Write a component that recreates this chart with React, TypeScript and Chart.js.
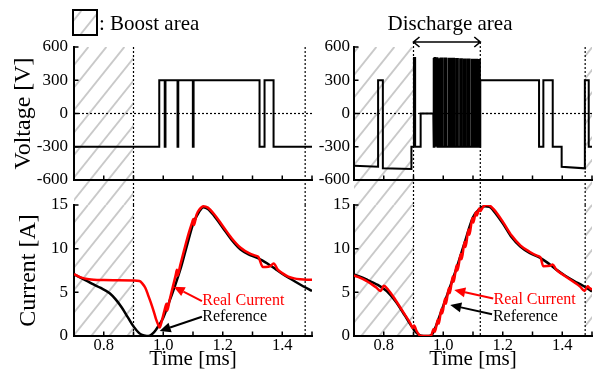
import React, { useEffect, useRef } from 'react';
import { Chart, registerables } from 'chart.js';

Chart.register(...registerables);

const SERIF = '"Liberation Serif", "Times New Roman", Times, serif';
const W = 594;
const H = 374;

// ---------------- axes ----------------
const timeMin = 0.7;
const timeMax = 1.5;
const timeTicks = [0.8, 0.9, 1.0, 1.1, 1.2, 1.3, 1.4, 1.5];
const timeTickLabels = [0.8, 1.0, 1.2, 1.4];
const voltTicks = [-600, -300, 0, 300, 600];
const currTicks = [0, 5, 10, 15];

// ---------------- areas ----------------
const boostLeft = [[0.7, 0.9]];
const boostRight = [[0.7, 0.9], [1.477, 1.5]];
const markersLeft = [0.9, 1.477];
const markersRight = [0.9, 1.1245, 1.477];
const dischargeArea = [0.9, 1.1245];

// ---------------- voltage (left) ----------------
const voltLeftT = [0.7, 0.9866, 0.9866, 1.005, 1.005, 1.0075, 1.0075, 1.048, 1.048, 1.0505, 1.0505, 1.0995, 1.0995, 1.102, 1.102, 1.3237, 1.3237, 1.3405, 1.3405, 1.3708, 1.3708, 1.5];
const voltLeftV = [-300, -300, 300, 300, -300, -300, 300, 300, -300, -300, 300, 300, -300, -300, 300, 300, -300, -300, 300, 300, -300, -300];

// ---------------- voltage (right) ----------------
const voltRightHeadT = [0.7, 0.781, 0.781, 0.797, 0.797, 0.893, 0.893, 0.9015, 0.9015, 0.9055, 0.9055, 0.924, 0.924, 0.9666];
const voltRightHeadV = [-471, -480, 300, 300, -494, -500, -300, -300, 500, 500, -300, -300, 0, 0];
const pwmOn = [0.9666, 0.9706, 0.9746, 0.9786, 0.9826, 0.9866, 0.9906, 0.9946, 1.0038, 1.0175, 1.0303, 1.0432, 1.0567, 1.0696, 1.0825, 1.096, 1.1082, 1.1177];
const pwmOff = [0.9686, 0.9726, 0.9766, 0.9806, 0.9846, 0.9886, 0.9926, 0.9966, 1.0098, 1.0235, 1.0363, 1.0492, 1.0627, 1.0756, 1.0885, 1.102, 1.1142, 1.1232];
const pwmTop = [500, 500, 499, 499, 498, 498, 497, 497, 496, 494, 493, 491, 490, 488, 487, 485, 484, 483];
const pwmLow = -300;
const voltRightTailT = [1.1245, 1.1245, 1.322, 1.322, 1.3365, 1.3365, 1.368, 1.368, 1.398, 1.398, 1.476, 1.476, 1.489, 1.489, 1.5];
const voltRightTailV = [-300, 300, 300, -300, -300, 300, 300, -300, -300, -480, -495, 300, 300, -300, -300];

// ---------------- current (left) ----------------
const refLeftT = [0.70, 0.73, 0.76, 0.79, 0.82, 0.84, 0.86, 0.88, 0.90, 0.92, 0.935, 0.945, 0.955, 0.965, 0.975, 0.985, 1.00, 1.02, 1.04, 1.06, 1.08, 1.10, 1.12, 1.135, 1.15, 1.17, 1.20, 1.23, 1.26, 1.29, 1.32, 1.35, 1.38, 1.41, 1.44, 1.47, 1.50];
const refLeftI = [7.05, 6.55, 6.0, 5.5, 4.9, 4.2, 3.3, 2.2, 1.1, 0.3, 0.05, 0.0, 0.05, 0.3, 0.7, 1.2, 2.1, 3.9, 5.8, 7.9, 10.4, 12.8, 14.2, 14.75, 14.55, 13.8, 12.4, 11.0, 9.9, 9.3, 8.9, 8.3, 7.6, 6.9, 6.3, 5.7, 5.15];
const realLeftT = [0.70, 0.72, 0.75, 0.80, 0.85, 0.90, 0.92, 0.93, 0.94, 0.95, 0.962, 0.97, 0.976, 0.983, 0.988, 0.995, 1.004, 1.011, 1.013, 1.022, 1.032, 1.042, 1.046, 1.048, 1.057, 1.07, 1.085, 1.098, 1.101, 1.103, 1.112, 1.122, 1.135, 1.15, 1.17, 1.20, 1.23, 1.26, 1.29, 1.31, 1.32, 1.335, 1.345, 1.36, 1.371, 1.385, 1.40, 1.42, 1.44, 1.46, 1.48, 1.50];
const realLeftI = [7.1, 6.75, 6.5, 6.4, 6.38, 6.35, 6.3, 6.0, 5.5, 4.6, 3.46, 2.6, 1.9, 1.3, 0.96, 1.7, 2.9, 3.7, 2.9, 4.2, 5.6, 7.0, 7.6, 6.9, 8.1, 9.8, 11.7, 13.1, 13.4, 12.7, 13.9, 14.5, 14.85, 14.7, 14.0, 12.6, 11.2, 10.1, 9.45, 9.2, 9.05, 7.9, 7.9, 8.0, 8.3, 7.6, 7.2, 6.8, 6.6, 6.5, 6.45, 6.45];

// ---------------- current (right) ----------------
const refRightT = [0.70, 0.74, 0.78, 0.81, 0.84, 0.87, 0.89, 0.905, 0.92, 0.935, 0.95, 0.962, 0.975, 0.99, 1.01, 1.04, 1.07, 1.10, 1.12, 1.14, 1.155, 1.17, 1.20, 1.23, 1.26, 1.29, 1.32, 1.35, 1.38, 1.41, 1.44, 1.47, 1.50];
const refRightI = [7.05, 6.5, 5.85, 5.15, 3.95, 2.4, 1.3, 0.55, 0.1, 0.0, 0.0, 0.15, 1.1, 2.5, 4.4, 7.3, 10.5, 13.6, 14.5, 14.85, 14.8, 14.3, 12.9, 11.3, 10.2, 9.5, 9.05, 8.4, 7.6, 6.9, 6.3, 5.75, 5.1];
const realRightT = [0.70, 0.74, 0.775, 0.79, 0.80, 0.815, 0.84, 0.87, 0.89, 0.897, 0.902, 0.91, 0.922, 0.93, 0.958, 0.968, 0.972, 0.982, 0.985, 0.994, 0.997, 1.006, 1.009, 1.019, 1.022, 1.032, 1.035, 1.045, 1.048, 1.059, 1.062, 1.072, 1.075, 1.085, 1.088, 1.098, 1.101, 1.110, 1.113, 1.121, 1.124, 1.135, 1.145, 1.155, 1.17, 1.20, 1.23, 1.26, 1.29, 1.315, 1.327, 1.336, 1.36, 1.368, 1.38, 1.41, 1.44, 1.46, 1.475, 1.485, 1.492, 1.50];
const realRightI = [6.95, 6.35, 5.55, 5.15, 5.75, 5.3, 4.1, 2.5, 1.4, 0.9, 1.2, 0.6, 0.05, 0.0, 0.0, 0.8, 0.5, 1.9, 1.4, 3.1, 2.6, 4.3, 3.7, 5.5, 4.9, 6.8, 6.2, 8.1, 7.5, 9.4, 8.8, 10.8, 10.2, 12.2, 11.6, 13.5, 13.0, 14.2, 13.8, 14.6, 14.3, 14.85, 15.0, 14.95, 14.5, 13.1, 11.5, 10.35, 9.65, 9.2, 9.0, 8.0, 8.05, 8.2, 7.6, 6.85, 6.15, 5.65, 5.15, 5.7, 5.5, 5.3];

// ---------------- annotations (data coordinates) ----------------
type Note = { text: string; color: string; textAt: number[]; tail: number[]; tip: number[] };
const notesLeft: Note[] = [
  { text: 'Real Current', color: '#ff0000', textAt: [1.131, 4.0], tail: [1.13, 4.0], tip: [1.035, 5.65] },
  { text: 'Reference', color: '#000000', textAt: [1.131, 2.2], tail: [1.13, 2.2], tip: [0.988, 0.57] },
];
const notesRight: Note[] = [
  { text: 'Real Current', color: '#ff0000', textAt: [1.169, 4.2], tail: [1.168, 4.3], tip: [1.037, 5.27] },
  { text: 'Reference', color: '#000000', textAt: [1.167, 2.21], tail: [1.164, 2.5], tip: [1.0235, 3.55] },
];

// ---------------- frame (pixels) ----------------
const FRAME = { leftX0: 74, leftX1: 312, rightX0: 354, rightX1: 592, voltTop: 47, voltBottom: 180, currTop: 205, currBottom: 336, arrowY: 42 };

const pts = (t: number[], v: number[]) => t.map((x, i) => ({ x, y: v[i] }));

function rightVoltagePoints() {
  const out = pts(voltRightHeadT, voltRightHeadV);
  pwmOn.forEach((on, i) => {
    if (i > 0) out.push({ x: on, y: pwmLow });
    out.push({ x: on, y: pwmTop[i] });
    out.push({ x: pwmOff[i], y: pwmTop[i] });
    out.push({ x: pwmOff[i], y: pwmLow });
  });
  return out.concat(pts(voltRightTailT, voltRightTailV));
}

const stepLine = (data: any[]) => ({
  data, borderColor: '#000', borderWidth: 2, pointRadius: 0, tension: 0, fill: false,
  borderJoinStyle: 'miter', borderCapStyle: 'butt',
});
const smoothLine = (data: any[], color: string, order: number) => ({
  data, borderColor: color, borderWidth: 2.5, pointRadius: 0, fill: false, order,
  cubicInterpolationMode: 'monotone', borderJoinStyle: 'round',
});

// ---------------- drawing helpers ----------------
function hatchRect(ctx: CanvasRenderingContext2D, x0: number, x1: number, y0: number, y1: number) {
  ctx.save();
  ctx.beginPath();
  ctx.rect(x0, y0, x1 - x0, y1 - y0);
  ctx.clip();
  ctx.strokeStyle = '#c9c9c9';
  ctx.lineWidth = 2;
  const slope = 0.8;
  const step = 18;
  const kMin = x0 + slope * y0;
  const kMax = x1 + slope * y1;
  for (let k = Math.floor(kMin / step) * step; k <= kMax + step; k += step) {
    ctx.beginPath();
    ctx.moveTo(k - slope * y0, y0);
    ctx.lineTo(k - slope * y1, y1);
    ctx.stroke();
  }
  ctx.restore();
}

function dotted(ctx: CanvasRenderingContext2D, x0: number, y0: number, x1: number, y1: number) {
  ctx.save();
  ctx.setLineDash([2, 2]);
  ctx.lineWidth = 1.2;
  ctx.strokeStyle = '#000';
  ctx.beginPath();
  ctx.moveTo(x0, y0);
  ctx.lineTo(x1, y1);
  ctx.stroke();
  ctx.restore();
}

function arrow(ctx: CanvasRenderingContext2D, x0: number, y0: number, x1: number, y1: number, color: string) {
  const a = Math.atan2(y1 - y0, x1 - x0);
  const len = 11, half = 5;
  const bx = x1 - len * Math.cos(a), by = y1 - len * Math.sin(a);
  ctx.save();
  ctx.strokeStyle = color;
  ctx.fillStyle = color;
  ctx.lineWidth = 2;
  ctx.beginPath();
  ctx.moveTo(x0, y0);
  ctx.lineTo(bx, by);
  ctx.stroke();
  ctx.beginPath();
  ctx.moveTo(x1, y1);
  ctx.lineTo(bx + half * Math.sin(a), by - half * Math.cos(a));
  ctx.lineTo(bx - half * Math.sin(a), by + half * Math.cos(a));
  ctx.closePath();
  ctx.fill();
  ctx.restore();
}

type Panel = {
  id: string;
  kind: 'volt' | 'curr';
  side: 'left' | 'right';
  datasets: any[];
  hatch: number[][];
  markers: number[];
  markerTops: number[];
  yTitle?: string;
  yTitlePad?: number;
  notes?: Note[];
  header?: 'boost' | 'discharge';
};

function decor(p: Panel) {
  const isVolt = p.kind === 'volt';
  const hy0 = isVolt ? FRAME.voltTop : FRAME.currTop;
  const hy1 = isVolt ? FRAME.currTop : FRAME.currBottom;
  return {
    id: 'decor_' + p.id,
    beforeDraw(chart: any) {
      const ctx = chart.ctx as CanvasRenderingContext2D;
      const xs = chart.scales.x, ys = chart.scales.y, ca = chart.chartArea;
      p.hatch.forEach(([a, b]) => hatchRect(ctx, xs.getPixelForValue(a), xs.getPixelForValue(b), hy0, hy1));
      p.markers.forEach((t, i) => {
        const x = xs.getPixelForValue(t);
        dotted(ctx, x, p.markerTops[i], x, hy1);
      });
      if (isVolt) {
        const y = ys.getPixelForValue(0);
        dotted(ctx, ca.left, y, ca.right, y);
      }
    },
    afterDraw(chart: any) {
      const ctx = chart.ctx as CanvasRenderingContext2D;
      const xs = chart.scales.x, ys = chart.scales.y, ca = chart.chartArea;
      // inward ticks
      ctx.save();
      ctx.strokeStyle = '#000';
      ctx.lineWidth = 1.5;
      ctx.beginPath();
      timeTicks.forEach((t) => {
        const x = xs.getPixelForValue(t);
        ctx.moveTo(x, ca.bottom);
        ctx.lineTo(x, ca.bottom - 4.5);
      });
      (isVolt ? voltTicks : currTicks).slice(1).forEach((v) => {
        const y = ys.getPixelForValue(v);
        ctx.moveTo(ca.left, y);
        ctx.lineTo(ca.left + 4.5, y);
      });
      ctx.stroke();
      ctx.restore();

      // notes
      (p.notes || []).forEach((n) => {
        arrow(ctx, xs.getPixelForValue(n.tail[0]), ys.getPixelForValue(n.tail[1]), xs.getPixelForValue(n.tip[0]), ys.getPixelForValue(n.tip[1]), n.color);
        ctx.save();
        ctx.font = `16px ${SERIF}`;
        ctx.fillStyle = n.color;
        ctx.textAlign = 'left';
        ctx.textBaseline = 'middle';
        ctx.fillText(n.text, xs.getPixelForValue(n.textAt[0]), ys.getPixelForValue(n.textAt[1]));
        ctx.restore();
      });

      if (p.header === 'boost') {
        hatchRect(ctx, 74, 96, 11, 34);
        ctx.save();
        ctx.strokeStyle = '#000';
        ctx.lineWidth = 2;
        ctx.strokeRect(73, 10, 24, 25);
        ctx.font = `21px ${SERIF}`;
        ctx.fillStyle = '#000';
        ctx.textAlign = 'left';
        ctx.textBaseline = 'alphabetic';
        ctx.fillText(': Boost area', 99, 29.5);
        ctx.restore();
      }
      if (p.header === 'discharge') {
        const xa = xs.getPixelForValue(dischargeArea[0]);
        const xb = xs.getPixelForValue(dischargeArea[1]);
        const y = FRAME.arrowY;
        ctx.save();
        ctx.strokeStyle = '#000';
        ctx.lineWidth = 1.6;
        ctx.beginPath();
        ctx.moveTo(xa, y);
        ctx.lineTo(xb, y);
        ctx.moveTo(xa + 6, y - 5);
        ctx.lineTo(xa, y);
        ctx.lineTo(xa + 6, y + 5);
        ctx.moveTo(xb - 6, y - 5);
        ctx.lineTo(xb, y);
        ctx.lineTo(xb - 6, y + 5);
        ctx.stroke();
        ctx.font = `21px ${SERIF}`;
        ctx.fillStyle = '#000';
        ctx.textAlign = 'center';
        ctx.textBaseline = 'alphabetic';
        ctx.fillText('Discharge area', 450, 29.5);
        ctx.restore();
      }
    },
  };
}

function makeConfig(p: Panel): any {
  const isVolt = p.kind === 'volt';
  const isLeft = p.side === 'left';
  const x0 = isLeft ? FRAME.leftX0 : FRAME.rightX0;
  const x1 = isLeft ? FRAME.leftX1 : FRAME.rightX1;
  const top = isVolt ? FRAME.voltTop : FRAME.currTop;
  const bottom = isVolt ? FRAME.voltBottom : FRAME.currBottom;
  const yW = isLeft ? 66 : 40;
  const xH = isVolt ? 20 : H - FRAME.currBottom;
  return {
    type: 'line',
    data: { datasets: p.datasets },
    options: {
      responsive: false,
      maintainAspectRatio: false,
      animation: false,
      devicePixelRatio: 1,
      events: [],
      layout: { padding: { left: x0 - yW, right: W - x1, top, bottom: H - bottom - xH } },
      plugins: { legend: { display: false }, tooltip: { enabled: false }, title: { display: false } },
      elements: { point: { radius: 0, hoverRadius: 0 } },
      scales: {
        x: {
          type: 'linear',
          min: timeMin,
          max: timeMax,
          afterBuildTicks: (s: any) => { s.ticks = timeTickLabels.map((v) => ({ value: v })); },
          afterFit: (s: any) => { s.height = xH; },
          grid: { display: false, drawTicks: false, tickLength: 0 },
          border: { display: true, color: '#000', width: 2 },
          ticks: {
            display: !isVolt, padding: 0, color: '#000', maxRotation: 0, autoSkip: false,
            font: { family: SERIF, size: 16.5 },
            callback: (v: any) => Number(v).toFixed(1),
          },
          title: {
            display: !isVolt, text: 'Time [ms]', color: '#000',
            font: { family: SERIF, size: 21 }, padding: { top: 0, bottom: 2 },
          },
        },
        y: {
          type: 'linear',
          min: isVolt ? -600 : 0,
          max: isVolt ? 600 : 15,
          afterBuildTicks: (s: any) => { s.ticks = (isVolt ? voltTicks : currTicks).map((v) => ({ value: v })); },
          afterFit: (s: any) => { s.width = yW; },
          grid: { display: false, drawTicks: false, tickLength: 0 },
          border: { display: true, color: '#000', width: 2 },
          ticks: {
            padding: isLeft ? 6 : 4, color: '#000',
            font: { family: SERIF, size: 17 },
            callback: (v: any) => String(v),
          },
          title: p.yTitle
            ? { display: true, text: p.yTitle, color: '#000', font: { family: SERIF, size: 24 }, padding: { top: p.yTitlePad || 0, bottom: 0 } }
            : { display: false },
        },
      },
    },
    plugins: [decor(p)],
  };
}

const panels: Panel[] = [
  {
    id: 'vl', kind: 'volt', side: 'left',
    datasets: [stepLine(pts(voltLeftT, voltLeftV))],
    hatch: boostLeft, markers: markersLeft, markerTops: [FRAME.voltTop, FRAME.voltTop],
    yTitle: 'Voltage [V]', yTitlePad: 1, header: 'boost',
  },
  {
    id: 'vr', kind: 'volt', side: 'right',
    datasets: [stepLine(rightVoltagePoints())],
    hatch: boostRight, markers: markersRight, markerTops: [FRAME.arrowY, FRAME.arrowY, FRAME.voltTop],
    header: 'discharge',
  },
  {
    id: 'il', kind: 'curr', side: 'left',
    datasets: [
      { label: 'Real Current', ...smoothLine(pts(realLeftT, realLeftI), '#ff0000', 0) },
      { label: 'Reference', ...smoothLine(pts(refLeftT, refLeftI), '#000000', 1) },
    ],
    hatch: boostLeft, markers: markersLeft, markerTops: [FRAME.currTop, FRAME.currTop],
    yTitle: 'Current [A]', yTitlePad: 6, notes: notesLeft,
  },
  {
    id: 'ir', kind: 'curr', side: 'right',
    datasets: [
      { label: 'Real Current', ...smoothLine(pts(realRightT, realRightI), '#ff0000', 0) },
      { label: 'Reference', ...smoothLine(pts(refRightT, refRightI), '#000000', 1) },
    ],
    hatch: boostRight, markers: markersRight, markerTops: [FRAME.currTop, FRAME.currTop, FRAME.currTop],
    notes: notesRight,
  },
];

export default function App() {
  const canvases = useRef<(HTMLCanvasElement | null)[]>([]);
  useEffect(() => {
    const charts = panels.map((p, i) => new Chart(canvases.current[i] as HTMLCanvasElement, makeConfig(p)));
    return () => charts.forEach((c) => c.destroy());
  }, []);
  return (
    <div style={{ position: 'fixed', left: 0, top: 0, width: W, height: H, background: '#fff', overflow: 'hidden' }}>
      {panels.map((p, i) => (
        <canvas
          key={p.id}
          ref={(el) => { canvases.current[i] = el; }}
          width={W}
          height={H}
          style={{ position: 'absolute', left: 0, top: 0, width: W, height: H }}
        />
      ))}
    </div>
  );
}
